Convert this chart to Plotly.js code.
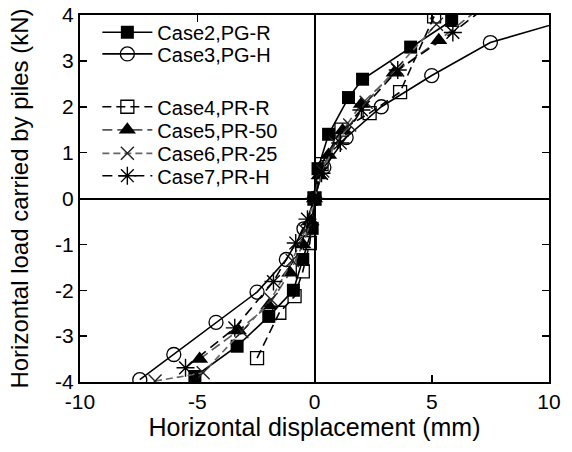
<!DOCTYPE html>
<html>
<head>
<meta charset="utf-8">
<script src="https://cdn.plot.ly/plotly-3.0.1.min.js"></script>
<style>html,body{margin:0;padding:0;background:#fff;}#chart{width:572px;height:452px;}</style>
</head>
<body>
<div id="chart"></div>
<script>
// Series names
const names = ["Case2,PG-R", "Case3,PG-H", "Case4,PR-R", "Case5,PR-50", "Case6,PR-25", "Case7,PR-H"];

// Horizontal displacement (mm) and load (kN) per case
const case2X = [-5.1, -3.3, -1.95, -0.9, -0.5, -0.1, 0.0, 0.15, 0.6, 1.45, 2.05, 4.1, 5.85];
const case2Y = [-3.88, -3.22, -2.57, -2.0, -1.33, -0.65, 0.0, 0.65, 1.4, 2.2, 2.6, 3.3, 3.88];

const case3X = [-7.45, -6.0, -4.2, -2.45, -1.2, -0.45, 0.0, 0.4, 1.35, 2.85, 5.0, 7.5, 11.0];
const case3Y = [-3.95, -3.4, -2.7, -2.04, -1.33, -0.66, 0.0, 0.68, 1.33, 2.0, 2.68, 3.4, 3.92];

const case4X = [-2.45, -1.5, -0.85, -0.5, -0.2, 0.0, 0.3, 1.15, 2.35, 3.65, 5.1];
const case4Y = [-3.48, -2.49, -2.13, -1.59, -0.97, 0.0, 0.75, 1.5, 1.86, 2.32, 3.97];

const case5X = [-4.9, -3.25, -1.95, -1.05, -0.5, -0.15, 0.0, 0.2, 0.6, 1.2, 2.0, 3.4, 5.3, 7.3];
const case5Y = [-3.5, -2.88, -2.33, -1.62, -1.0, -0.5, 0.0, 0.5, 0.95, 1.48, 2.06, 2.74, 3.45, 4.25];

const case6X = [-6.8, -4.75, -3.1, -1.85, -0.95, -0.4, 0.0, 0.35, 0.9, 1.5, 2.2, 3.5, 5.2];
const case6Y = [-3.98, -3.8, -2.9, -2.2, -1.35, -0.7, 0.0, 0.6, 1.2, 1.6, 2.1, 2.84, 3.8];

const case7X = [-5.5, -3.4, -1.75, -0.8, -0.3, 0.0, 0.3, 1.1, 2.0, 3.55, 5.9, 7.5];
const case7Y = [-3.69, -2.82, -1.81, -0.97, -0.45, 0.0, 0.55, 1.21, 1.93, 2.8, 3.62, 4.25];

// Axis ticks
const xTicks = [-10, -5, 0, 5, 10];
const yTicks = [-4, -3, -2, -1, 0, 1, 2, 3, 4];

const FONT = "Liberation Sans, Arial, Helvetica, sans-serif";

// Legend entry rows (paper fraction from the plot bottom)
const legendRows = [0.953, 0.894, 0.750, 0.687, 0.623, 0.562];
const legendIds = ["legend", "legend2", "legend3", "legend4", "legend5", "legend6"];

const traces = [
  {x: case2X, y: case2Y, name: names[0], mode: "lines+markers",
   line: {color: "#000", width: 1.6},
   marker: {symbol: "square", size: 13, color: "#000"}},
  {x: case3X, y: case3Y, name: names[1], mode: "lines+markers",
   line: {color: "#000", width: 1.6},
   marker: {symbol: "circle-open", size: 14, color: "#000", line: {width: 1.3}}},
  {x: case4X, y: case4Y, name: names[2], mode: "lines+markers",
   line: {color: "#000", width: 1.6, dash: "9px,5px"},
   marker: {symbol: "square-open", size: 13, color: "#000", line: {width: 1.3}}},
  {x: case5X, y: case5Y, name: names[3], mode: "lines+markers",
   line: {color: "#555", width: 1.6, dash: "10px,5px"},
   marker: {symbol: "triangle-up", size: 15, color: "#000"}},
  {x: case6X, y: case6Y, name: names[4], mode: "lines+markers",
   line: {color: "#666", width: 1.6, dash: "7px,4px"},
   marker: {symbol: "x-thin-open", size: 13, color: "#222", line: {width: 1.4}}},
  {x: case7X, y: case7Y, name: names[5], mode: "lines+markers",
   line: {color: "#000", width: 1.6, dash: "10px,6px"},
   marker: {symbol: "asterisk-open", size: 15, color: "#000", line: {width: 1.4}}}
];
traces.forEach((t, i) => { t.legend = legendIds[i]; });

const layout = {
  width: 572, height: 452,
  margin: {l: 80, r: 23, t: 15, b: 70},
  paper_bgcolor: "#fff", plot_bgcolor: "#fff",
  font: {family: FONT, color: "#000", size: 20},
  showlegend: true,
  xaxis: {
    range: [-10, 10], tickvals: xTicks, ticktext: xTicks.map(String),
    ticks: "inside", ticklen: 7, tickwidth: 1.5, tickcolor: "#000",
    showline: true, linewidth: 2, linecolor: "#000", mirror: "ticks",
    showgrid: false, zeroline: true, zerolinewidth: 2, zerolinecolor: "#000",
    tickfont: {family: FONT, size: 21, color: "#000"},
    title: {text: "Horizontal displacement (mm)", font: {family: FONT, size: 25, color: "#000"}, standoff: 3}
  },
  yaxis: {
    range: [-4, 4], tickvals: yTicks, ticktext: yTicks.map(String),
    ticks: "inside", ticklen: 7, tickwidth: 1.5, tickcolor: "#000",
    showline: true, linewidth: 2, linecolor: "#000", mirror: "ticks",
    showgrid: false, zeroline: true, zerolinewidth: 2, zerolinecolor: "#000",
    tickfont: {family: FONT, size: 21, color: "#000"},
    title: {text: "Horizontal load carried by piles (kN)", font: {family: FONT, size: 24, color: "#000"}, standoff: 20}
  }
};
legendIds.forEach((id, i) => {
  layout[id] = {
    x: 0.037, y: legendRows[i], xanchor: "left", yanchor: "middle",
    bgcolor: "rgba(0,0,0,0)", borderwidth: 0,
    font: {family: FONT, size: 20, color: "#000"},
    itemwidth: 50
  };
});

Plotly.newPlot("chart", traces, layout, {staticPlot: true, displayModeBar: false});
</script>
</body>
</html>
